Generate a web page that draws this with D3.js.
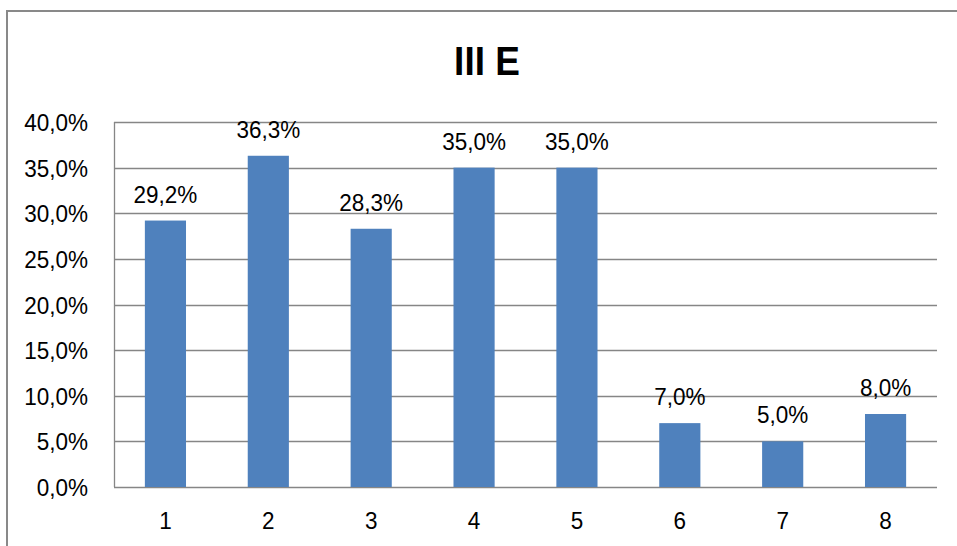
<!DOCTYPE html>
<html>
<head>
<meta charset="utf-8">
<script src="https://cdn.jsdelivr.net/npm/d3@7"></script>
<style>
  body { margin: 0; background: #fff; }
  text { font-family: "Liberation Sans", Arial, sans-serif; }
</style>
</head>
<body>
<div id="chart"></div>
<script>
// chart data
var categories = ["1", "2", "3", "4", "5", "6", "7", "8"];
var values = [29.2, 36.3, 28.3, 35.0, 35.0, 7.0, 5.0, 8.0];
var yTicks = [0, 5, 10, 15, 20, 25, 30, 35, 40];
var title = "III E";

var width = 957, height = 546;
var margin = { top: 122, right: 20, bottom: 59, left: 114 };
var plotW = 937 - margin.left,
    plotH = 487 - margin.top;

function fmt(v) { return v.toFixed(1).replace(".", ",") + "%"; }

var svg = d3.select("#chart").append("svg")
    .attr("width", width)
    .attr("height", height);

// outer frame
svg.append("rect")
    .attr("x", 7).attr("y", 11)
    .attr("width", 1000).attr("height", 1000)
    .attr("fill", "none")
    .attr("stroke", "#898989")
    .attr("stroke-width", 2);

// title
svg.append("text")
    .attr("transform", "translate(487,75) scale(1,1.1)")
    .attr("text-anchor", "middle")
    .style("font-size", "37px")
    .style("font-weight", "bold")
    .text(title);

var g = svg.append("g")
    .attr("transform", "translate(" + margin.left + "," + margin.top + ")");

var x = d3.scaleBand()
    .domain(categories)
    .range([0, plotW])
    .paddingInner(0.6)
    .paddingOuter(0.3);

var y = d3.scaleLinear()
    .domain([0, 40])
    .range([plotH, 0]);

// gridlines
g.selectAll(".grid")
    .data(yTicks)
    .enter().append("line")
    .attr("class", "grid")
    .attr("x1", 0)
    .attr("x2", plotW)
    .attr("y1", function (d) { return Math.round(y(d)) + 0.5; })
    .attr("y2", function (d) { return Math.round(y(d)) + 0.5; })
    .attr("stroke", "#868686")
    .attr("stroke-width", 1.3);

// y axis line
g.append("line")
    .attr("x1", 0.5).attr("x2", 0.5)
    .attr("y1", 0).attr("y2", plotH)
    .attr("stroke", "#868686")
    .attr("stroke-width", 1.3);

// y tick labels
g.selectAll(".ylab")
    .data(yTicks)
    .enter().append("text")
    .attr("class", "ylab")
    .attr("text-anchor", "end")
    .attr("transform", function (d) { return "translate(-26," + (y(d) + 9) + ") scale(1,1.06)"; })
    .style("font-size", "22.5px")
    .text(function (d) { return fmt(d); });

// bars
g.selectAll(".bar")
    .data(values)
    .enter().append("rect")
    .attr("class", "bar")
    .attr("x", function (d, i) { return x(categories[i]); })
    .attr("width", x.bandwidth())
    .attr("y", function (d) { return y(d); })
    .attr("height", function (d) { return plotH - y(d); })
    .attr("fill", "#4F81BD");

// value labels
g.selectAll(".vlab")
    .data(values)
    .enter().append("text")
    .attr("class", "vlab")
    .attr("text-anchor", "middle")
    .attr("transform", function (d, i) {
        return "translate(" + (x(categories[i]) + x.bandwidth() / 2) + "," + (y(d) - 18) + ") scale(1,1.06)";
    })
    .style("font-size", "22.5px")
    .text(function (d) { return fmt(d); });

// category labels
g.selectAll(".xlab")
    .data(categories)
    .enter().append("text")
    .attr("class", "xlab")
    .attr("text-anchor", "middle")
    .attr("transform", function (d) {
        return "translate(" + (x(d) + x.bandwidth() / 2) + "," + (plotH + 42) + ") scale(1,1.06)";
    })
    .style("font-size", "22.5px")
    .text(function (d) { return d; });
</script>
</body>
</html>
